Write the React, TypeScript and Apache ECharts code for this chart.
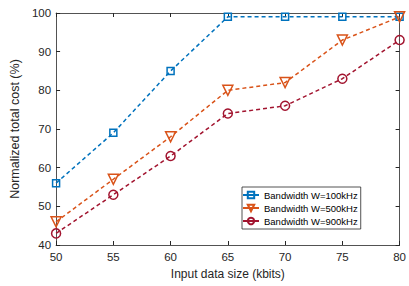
import React, { useEffect, useRef } from "react";
import * as echarts from "echarts";

const xValues = [50, 55, 60, 65, 70, 75, 80];
const bw100 = [56, 69, 85, 99, 99, 99, 99];
const bw500 = [46, 57, 68, 80, 82, 93, 99];
const bw900 = [43, 53, 63, 74, 76, 83, 93];
const seriesNames = ["Bandwidth W=100kHz", "Bandwidth W=500kHz", "Bandwidth W=900kHz"];
const colors = ["#0072BD", "#D95319", "#A2142F"];
const symbols = ["rect", "path://M0,0 L10,0 L5,9 Z", "circle"];
const symbolSizes = [7, 10, 9];

export default function App() {
  const ref = useRef<HTMLDivElement>(null);
  useEffect(() => {
    if (!ref.current) return;
    const chart = echarts.init(ref.current, undefined, { renderer: "svg" });
    const datas = [bw100, bw500, bw900];
    const font = "Liberation Sans, Arial, sans-serif";
    const axisLine = { show: true, lineStyle: { color: "#262626", width: 0.8 } };
    chart.setOption({
      animation: false,
      textStyle: { fontFamily: font },
      grid: { left: 38, right: 9, top: 13, bottom: 41 },
      legend: {
        orient: "vertical",
        left: 242,
        top: 187,
        itemWidth: 16,
        itemHeight: 8,
        itemGap: 3,
        padding: [3, 3, 3, 0],
        borderColor: "#262626",
        borderWidth: 0.8,
        backgroundColor: "#fff",
        lineStyle: { type: "solid" },
        textStyle: { fontSize: 9.5, color: "#000", fontFamily: font },
        data: seriesNames,
      },
      xAxis: [
        {
          type: "value",
          min: 50,
          max: 80,
          interval: 5,
          name: "Input data size (kbits)",
          nameLocation: "middle",
          nameGap: 23,
          nameTextStyle: { fontSize: 12, color: "#262626" },
          axisLine,
          axisTick: { inside: true, length: 4, lineStyle: { color: "#262626" } },
          axisLabel: { fontSize: 11.5, color: "#262626", margin: 6 },
          splitLine: { show: false },
        },
        {
          type: "value",
          position: "top",
          min: 50,
          max: 80,
          interval: 5,
          axisLine,
          axisTick: { inside: true, length: 4, lineStyle: { color: "#262626" } },
          axisLabel: { show: false },
          splitLine: { show: false },
        },
      ],
      yAxis: [
        {
          type: "value",
          min: 40,
          max: 100,
          interval: 10,
          name: "Normalized total cost (%)",
          nameLocation: "middle",
          nameGap: 24,
          nameTextStyle: { fontSize: 12.5, color: "#262626" },
          axisLine,
          axisTick: { inside: true, length: 4, lineStyle: { color: "#262626" } },
          axisLabel: { fontSize: 11.5, color: "#262626", margin: 5 },
          splitLine: { show: false },
        },
        {
          type: "value",
          position: "right",
          min: 40,
          max: 100,
          interval: 10,
          axisLine,
          axisTick: { inside: true, length: 4, lineStyle: { color: "#262626" } },
          axisLabel: { show: false },
          splitLine: { show: false },
        },
      ],
      series: seriesNames.map((name, i) => ({
        name,
        type: "line",
        xAxisIndex: 0,
        yAxisIndex: 0,
        data: xValues.map((x, j) => [x, datas[i][j]]),
        symbol: symbols[i],
        symbolSize: symbolSizes[i],
        showAllSymbol: true,
        lineStyle: { color: colors[i], width: 1.5, type: [4, 3] },
        itemStyle: { color: "rgba(255,255,255,0)", borderColor: colors[i], borderWidth: 1.5 },
      })),
    });
    return () => chart.dispose();
  }, []);
  return (
    <div
      ref={ref}
      style={{ position: "fixed", left: 0, top: 0, width: 409, height: 286, background: "#fff" }}
    />
  );
}
